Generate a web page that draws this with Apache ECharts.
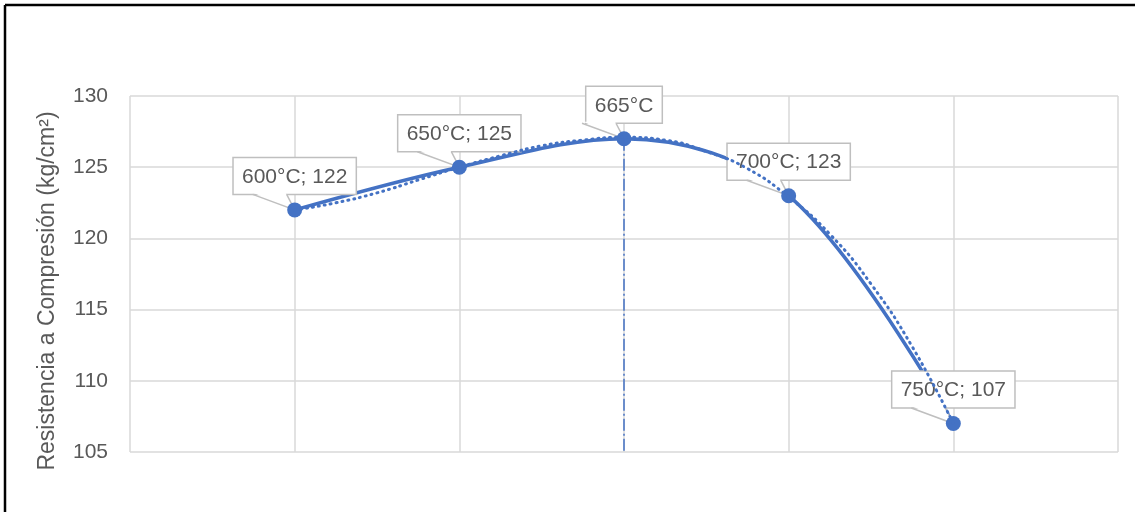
<!DOCTYPE html>
<html>
<head>
<meta charset="utf-8">
<script src="https://cdn.jsdelivr.net/npm/echarts@6/dist/echarts.min.js"></script>
<style>
  html,body{margin:0;padding:0;background:#fff;}
  #d{width:1137px;height:512px;}
</style>
</head>
<body>
<div id="d"></div>
<script>
// datos
var temps=['600°C','650°C','665°C','700°C','750°C'];
var xPos=[1,2,3,4,5];
var resistencia=[122,125,127,123,107];
var etiquetas=['600°C; 122','650°C; 125','665°C','700°C; 123','750°C; 107'];
// linea de tendencia (punteada)
var tendX=[1,1.25,1.5,1.75,2,2.25,2.5,2.75,3,3.25,3.5,3.75,4,4.25,4.5,4.75,5];
var tendY=[122.0,122.5,123.2,124.1,125.0,125.8,126.5,126.9,127.1,126.9,126.1,124.9,122.9,120.3,116.8,112.4,107.0];
var yTicks=[105,110,115,120,125,130];

var azul='#4472c4';
var gris='#595959';
var borde='#bfbfbf';
var fuente='21px "Liberation Sans"';

var myChart=echarts.init(document.getElementById('d'));
var datos=[];
for(var i=0;i<xPos.length;i++){
  datos.push([xPos[i],resistencia[i]]);
}
var tend=[];
for(var i=0;i<tendX.length;i++){
  tend.push([tendX[i],tendY[i]]);
}

var ctx=document.createElement('canvas').getContext('2d');
ctx.font=fuente;

// globo de texto tipo Excel (caja + pico hacia el punto)
function globo(params,api){
  var pt=api.coord([api.value(0),api.value(1)]);
  var txt=etiquetas[params.dataIndex];
  var w=ctx.measureText(txt).width+18, h=37;
  var cx=pt[0],cy=pt[1]-34;
  var arriba=cy-h/2, abajo=cy+h/2;
  var b1=cx-42,b2=cx-8;
  return {
    type:'group',
    children:[
      {type:'rect',shape:{x:cx-w/2,y:arriba,width:w,height:h},
        style:{fill:'#fff',stroke:borde,lineWidth:1.5}},
      {type:'polygon',shape:{points:[[b1+1,abajo-1.5],[b2-1,abajo-1.5],[pt[0],pt[1]]]},
        style:{fill:'#fff'}},
      {type:'polyline',shape:{points:[[b1,abajo],[pt[0],pt[1]],[b2,abajo]]},
        style:{stroke:borde,lineWidth:1.5,fill:null}},
      {type:'text',x:cx,y:cy+1,
        style:{text:txt,fill:gris,font:fuente,align:'center',verticalAlign:'middle'}}
    ]
  };
}

option={
  animation:false,
  grid:{left:130,top:96,right:19,bottom:60},
  xAxis:{
    type:'value',min:0,max:6,interval:1,
    axisLabel:{show:false},axisTick:{show:false},axisLine:{show:false},
    splitLine:{show:true,lineStyle:{color:'#d9d9d9',width:1.5}}
  },
  yAxis:{
    type:'value',min:yTicks[0],max:yTicks[yTicks.length-1],interval:5,
    axisLabel:{color:gris,fontSize:21,fontFamily:'Liberation Sans',margin:22},
    axisTick:{show:false},axisLine:{show:false},
    splitLine:{show:true,lineStyle:{color:'#d9d9d9',width:1.5}}
  },
  graphic:[
    {type:'line',shape:{x1:5,y1:5,x2:1135,y2:5},style:{stroke:'#000',lineWidth:2.5}},
    {type:'line',shape:{x1:5,y1:5,x2:5,y2:512},style:{stroke:'#000',lineWidth:2.5}},
    {type:'text',x:48,y:291,rotation:Math.PI/2,
      style:{text:'Resistencia a Compresión (kg/cm²)',fill:gris,fontSize:23,fontFamily:'Liberation Sans',
        align:'center',verticalAlign:'middle'}}
  ],
  series:[
    {
      name:'Resistencia',
      type:'line',
      data:datos,
      smooth:0.35,
      z:2,
      symbol:'none',
      lineStyle:{color:azul,width:3.5},
      markLine:{
        silent:true,symbol:'none',
        label:{show:false},
        lineStyle:{color:azul,width:1.5,type:[12,3,2,3]},
        data:[[{coord:[xPos[2],resistencia[2]]},{coord:[xPos[2],yTicks[0]]}]]
      }
    },
    {
      name:'Etiquetas',
      type:'custom',
      data:datos,
      z:3,
      renderItem:globo
    },
    {
      name:'Puntos',
      type:'scatter',
      data:datos,
      z:4,
      symbol:'circle',symbolSize:15,
      itemStyle:{color:azul,opacity:1}
    },
    {
      name:'Tendencia',
      type:'line',
      data:tend,
      smooth:true,
      z:5,
      symbol:'none',
      lineStyle:{color:azul,width:3,type:[1,5],cap:'round'}
    }
  ]
};
option && myChart.setOption(option);
</script>
</body>
</html>
